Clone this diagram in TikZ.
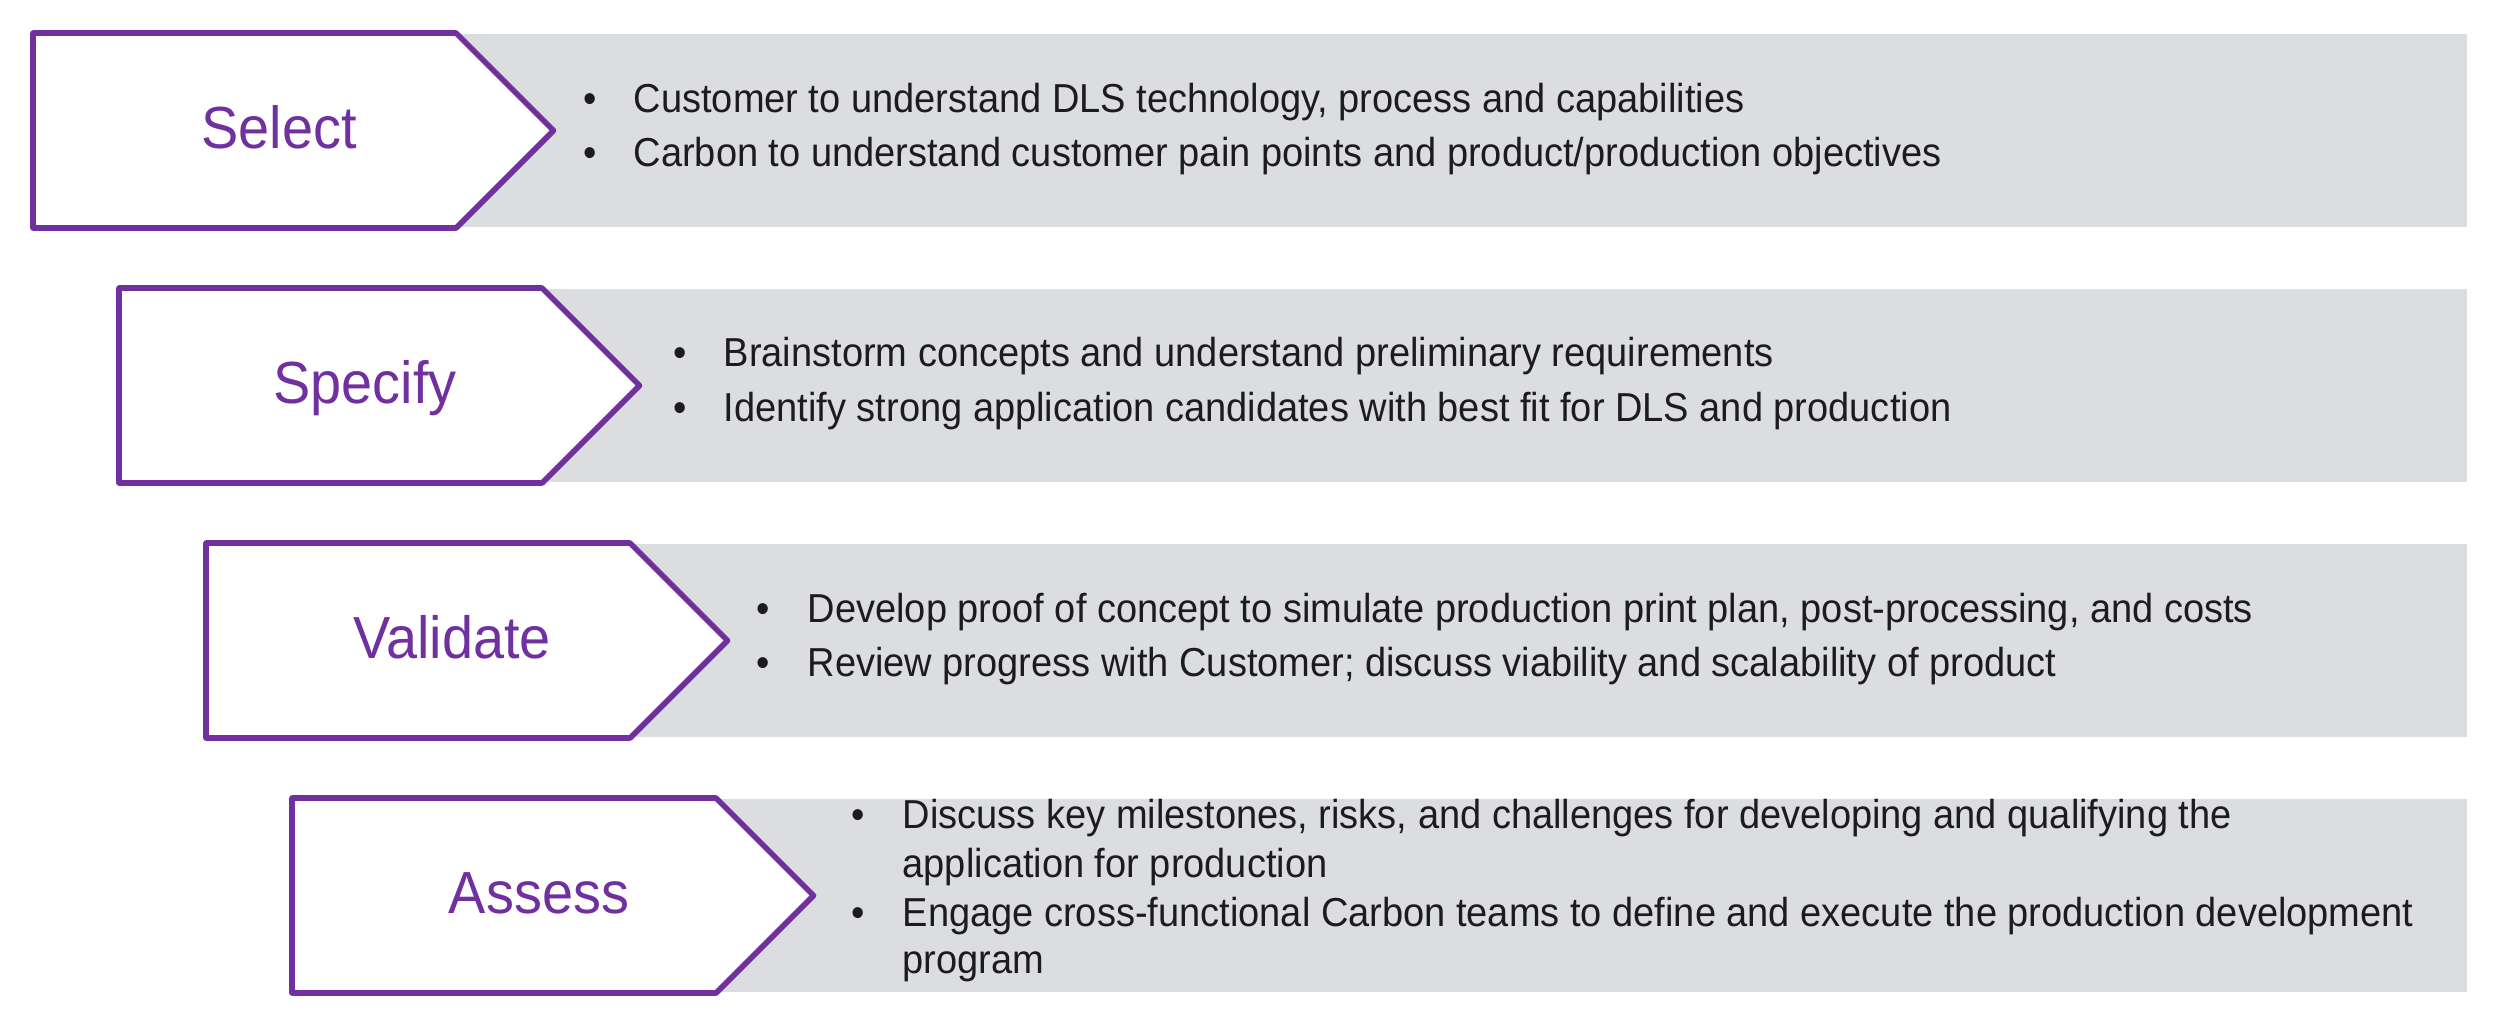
\documentclass[tikz,border=0pt]{standalone}
\usepackage{fontspec}
\setmainfont{Liberation Sans}[FakeStretch=0.94]
\definecolor{brandpurple}{RGB}{112,48,160}
\definecolor{bandgrey}{RGB}{220,221,223}
\definecolor{txtdark}{RGB}{28,28,30}
\begin{document}
\begin{tikzpicture}[x=0.01cm,y=-0.01cm,
  band/.style={fill=bandgrey, draw=none},
  chevron/.style={draw=brandpurple, fill=white, line width=1.6pt, line join=round},
  steplabel/.style={text=brandpurple, font=\fontsize{16.9}{20}\selectfont, inner sep=0pt, anchor=base},
  bul/.style={text=txtdark, font=\fontsize{11.5}{14}\selectfont, inner sep=0pt, anchor=base},
  itemtext/.style={text=txtdark, font=\fontsize{11.5}{14}\selectfont, inner sep=0pt, anchor=base west}]
\useasboundingbox (0,0) rectangle (2500,1029);

% ---- Select ----
\fill[band] (400,34) rectangle (2467,227);
\draw[chevron] (33,33) -- (456,33) -- (553.5,130.5) -- (456,228) -- (33,228) -- cycle;
\node[steplabel] (select) at (279,148) {Select};
\node[bul] (b11) at (590,112) {•};
\node[itemtext] (t11) at (633,112) {Customer to understand DLS technology, process and capabilities};
\node[bul] (b12) at (590,166) {•};
\node[itemtext] (t12) at (633,166) {Carbon to understand customer pain points and product/production objectives};

% ---- Specify ----
\fill[band] (486,289) rectangle (2467,482);
\draw[chevron] (119,288) -- (542,288) -- (639.5,385.5) -- (542,483) -- (119,483) -- cycle;
\node[steplabel] (specify) at (365,403) {Specify};
\node[bul] (b21) at (680,366) {•};
\node[itemtext] (t21) at (723,366) {Brainstorm concepts and understand preliminary requirements};
\node[bul] (b22) at (680,421) {•};
\node[itemtext] (t22) at (723,421) {Identify strong application candidates with best fit for DLS and production};

% ---- Validate ----
\fill[band] (573,544) rectangle (2467,737);
\draw[chevron] (206,543) -- (630,543) -- (727.5,640.5) -- (630,738) -- (206,738) -- cycle;
\node[steplabel] (validate) at (452,658) {Validate};
\node[bul] (b31) at (763,622) {•};
\node[itemtext] (t31) at (807,622) {Develop proof of concept to simulate production print plan, post-processing, and costs};
\node[bul] (b32) at (763,676) {•};
\node[itemtext] (t32) at (807,676) {Review progress with Customer; discuss viability and scalability of product};

% ---- Assess ----
\fill[band] (660,799) rectangle (2467,992);
\draw[chevron] (292,798) -- (716,798) -- (813.5,895.5) -- (716,993) -- (292,993) -- cycle;
\node[steplabel] (assess) at (539,913) {Assess};
\node[bul] (b41) at (858,828) {•};
\node[itemtext] (t41) at (902,828) {Discuss key milestones, risks, and challenges for developing and qualifying the};
\node[itemtext] (t41b) at (902,877) {application for production};
\node[bul] (b42) at (858,926) {•};
\node[itemtext] (t42) at (902,926) {Engage cross-functional Carbon teams to define and execute the production development};
\node[itemtext] (t42b) at (902,973) {program};
\end{tikzpicture}
\end{document}
